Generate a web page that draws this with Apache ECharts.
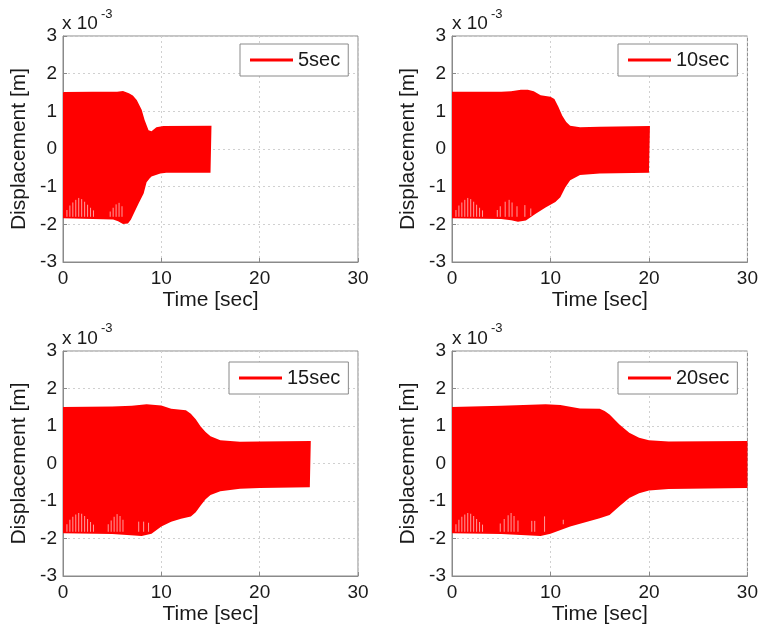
<!DOCTYPE html>
<html><head><meta charset="utf-8">
<script src="https://cdn.jsdelivr.net/npm/echarts@6/dist/echarts.min.js"></script>
<style>html,body{margin:0;padding:0;background:#fff}#c{width:761px;height:631px}</style>
</head><body><div id="c"></div>
<script>
// Displacement values are in units of 1e-3 m (axis multiplier "x 10^-3")
const panelNames = ['5sec', '10sec', '15sec', '20sec'];
const xTickValues = [0, 10, 20, 30];
const yTickValues = [-3, -2, -1, 0, 1, 2, 3];

// envelope of the oscillation: [time, displacement]
const upper5 = [[0,1.50],[0.1,1.51],[3,1.52],[5.5,1.52],[6.1,1.54],[6.7,1.48],[7.1,1.42],[7.5,1.30],[8.0,1.04],[8.3,0.77],[8.7,0.50],[9.0,0.47],[9.5,0.58],[10.2,0.61],[15.1,0.62]];
const lower5 = [[0,-1.84],[5.1,-1.87],[5.6,-1.92],[6.1,-1.99],[6.6,-1.98],[6.9,-1.88],[7.2,-1.71],[7.7,-1.44],[8.2,-1.18],[8.5,-0.88],[8.8,-0.78],[9.0,-0.73],[9.9,-0.65],[10.5,-0.63],[15.0,-0.63]];
const upper10 = [[0,1.52],[5,1.52],[6,1.53],[7,1.57],[7.7,1.57],[8.3,1.53],[9,1.43],[10,1.39],[10.4,1.33],[10.8,1.12],[11.2,0.88],[11.6,0.72],[12,0.62],[13,0.58],[15,0.59],[20.1,0.61]];
const lower10 = [[0,-1.84],[5,-1.86],[6,-1.89],[6.7,-1.93],[7.5,-1.90],[8.5,-1.72],[9.5,-1.55],[10.5,-1.41],[11,-1.28],[11.5,-1.02],[12,-0.83],[13,-0.69],[15,-0.65],[20,-0.63]];
const upper15 = [[0,1.51],[5,1.52],[7,1.54],[8.5,1.58],[10,1.55],[11,1.46],[12.5,1.42],[13,1.33],[13.5,1.18],[14,0.99],[14.5,0.84],[15,0.73],[16,0.62],[18,0.58],[20,0.59],[25.2,0.60]];
const lower15 = [[0,-1.86],[5,-1.88],[8,-1.93],[9,-1.87],[10,-1.68],[11,-1.55],[12,-1.47],[13,-1.41],[13.5,-1.30],[14,-1.12],[14.5,-0.95],[15,-0.84],[16,-0.74],[18,-0.67],[20,-0.65],[25.1,-0.63]];
const upper20 = [[0,1.51],[5,1.54],[9.5,1.58],[11,1.56],[13,1.47],[15,1.46],[15.5,1.40],[16,1.31],[17,1.04],[18,0.82],[19,0.69],[20,0.62],[22,0.59],[30,0.60]];
const lower20 = [[0,-1.86],[5,-1.88],[9,-1.93],[10,-1.87],[12,-1.68],[14,-1.53],[15,-1.46],[16,-1.37],[17,-1.14],[18,-0.92],[19,-0.79],[20,-0.72],[22,-0.68],[30,-0.65]];

// light aliasing streaks in the lower part: [time, top, bottom]
const streaks5 = [[0.4,-1.62,-1.80],[0.7,-1.50,-1.80],[1.0,-1.42,-1.80],[1.3,-1.35,-1.80],[1.6,-1.30,-1.80],[1.9,-1.33,-1.80],[2.2,-1.40,-1.80],[2.5,-1.48,-1.80],[2.8,-1.56,-1.80],[3.1,-1.63,-1.80],[4.8,-1.66,-1.80],[5.1,-1.56,-1.80],[5.4,-1.47,-1.80],[5.7,-1.43,-1.80],[6.0,-1.52,-1.80]];
const streaks10 = [[0.4,-1.62,-1.80],[0.7,-1.50,-1.80],[1.0,-1.42,-1.80],[1.3,-1.35,-1.80],[1.6,-1.30,-1.80],[1.9,-1.33,-1.80],[2.2,-1.40,-1.80],[2.5,-1.48,-1.80],[2.8,-1.56,-1.80],[3.1,-1.63,-1.80],[4.6,-1.62,-1.80],[4.9,-1.52,-1.80],[5.4,-1.40,-1.80],[5.8,-1.35,-1.80],[6.1,-1.42,-1.80],[6.6,-1.52,-1.80],[7.4,-1.49,-1.80],[8.0,-1.58,-1.78]];
const streaks15 = [[0.4,-1.62,-1.82],[0.7,-1.50,-1.82],[1.0,-1.42,-1.82],[1.3,-1.36,-1.82],[1.6,-1.32,-1.82],[1.9,-1.34,-1.82],[2.2,-1.40,-1.82],[2.5,-1.48,-1.82],[2.8,-1.56,-1.82],[3.1,-1.63,-1.82],[4.6,-1.62,-1.82],[4.9,-1.52,-1.82],[5.2,-1.42,-1.82],[5.5,-1.35,-1.82],[5.8,-1.40,-1.82],[6.1,-1.50,-1.82],[7.7,-1.55,-1.82],[8.2,-1.55,-1.82],[8.7,-1.58,-1.82]];
const streaks20 = [[0.4,-1.62,-1.82],[0.7,-1.50,-1.82],[1.0,-1.42,-1.82],[1.3,-1.36,-1.82],[1.6,-1.32,-1.82],[1.9,-1.34,-1.82],[2.2,-1.40,-1.82],[2.5,-1.48,-1.82],[2.8,-1.56,-1.82],[3.1,-1.63,-1.82],[4.9,-1.60,-1.82],[5.3,-1.48,-1.82],[5.7,-1.38,-1.82],[6.0,-1.32,-1.82],[6.3,-1.40,-1.82],[6.7,-1.52,-1.82],[8.1,-1.53,-1.82],[8.4,-1.53,-1.82],[9.4,-1.41,-1.82],[11.3,-1.50,-1.62]];

const uppers = [upper5, upper10, upper15, upper20];
const lowers = [lower5, lower10, lower15, lower20];
const streaks = [streaks5, streaks10, streaks15, streaks20];

// layout
const FONT = 'Liberation Sans, Arial, Helvetica, sans-serif';
const grids = [
  {left: 63, top: 36, width: 295, height: 226},
  {left: 452, top: 36, width: 296, height: 226},
  {left: 63, top: 351, width: 295, height: 225},
  {left: 452, top: 351, width: 296, height: 225}
];
const legendPos = [[240, 44], [618, 44], [229, 362], [618, 362]];
const multPos = [[62, 24, 101, 14], [452, 24, 491, 14], [62, 339, 101, 328], [452, 339, 491, 328]];
const RED = '#ff0000';
const FRAME = '#8a8a8a';

function envelopeRender(up, lo) {
  return function (params, api) {
    if (params.dataIndex !== 0) return null;
    const pts = up.map(p => api.coord(p)).concat(lo.slice().reverse().map(p => api.coord(p)));
    return {type: 'polygon', shape: {points: pts}, style: {fill: RED}};
  };
}
function streakRender(params, api) {
  const a = api.coord([api.value(0), api.value(1)]);
  const b = api.coord([api.value(0), api.value(2)]);
  return {type: 'line', shape: {x1: a[0], y1: a[1], x2: b[0], y2: b[1]},
    style: {stroke: '#ff9c9c', lineWidth: 1}};
}

const option = {
  animation: false,
  backgroundColor: '#ffffff',
  textStyle: {fontFamily: FONT},
  grid: grids.map(g => Object.assign({show: true, borderColor: FRAME, borderWidth: 1, backgroundColor: '#fff', containLabel: false}, g)),
  xAxis: grids.map((g, i) => ({
    type: 'value', gridIndex: i, min: xTickValues[0], max: xTickValues[xTickValues.length - 1], interval: 10,
    axisLine: {show: true, onZero: false, lineStyle: {color: FRAME}},
    axisTick: {show: true, inside: true, length: 4, lineStyle: {color: FRAME}},
    splitLine: {show: true, lineStyle: {color: '#d0d0d0', type: [2, 3], width: 1}},
    axisLabel: {color: '#1a1a1a', fontSize: 19, fontFamily: FONT, margin: 7},
    name: 'Time [sec]', nameLocation: 'middle', nameGap: 28,
    nameTextStyle: {color: '#1a1a1a', fontSize: 21, fontFamily: FONT}
  })),
  yAxis: grids.map((g, i) => ({
    type: 'value', gridIndex: i, min: yTickValues[0], max: yTickValues[yTickValues.length - 1], interval: 1,
    axisLine: {show: true, onZero: false, lineStyle: {color: FRAME}},
    axisTick: {show: true, inside: true, length: 4, lineStyle: {color: FRAME}},
    splitLine: {show: true, lineStyle: {color: '#d0d0d0', type: [2, 3], width: 1}},
    axisLabel: {color: '#1a1a1a', fontSize: 19, fontFamily: FONT, margin: 6},
    name: 'Displacement [m]', nameLocation: 'middle', nameGap: 33,
    nameTextStyle: {color: '#1a1a1a', fontSize: 21, fontFamily: FONT}
  })),
  legend: panelNames.map((n, i) => ({
    data: [n], left: legendPos[i][0], top: legendPos[i][1],
    orient: 'vertical', icon: 'rect', itemWidth: 43, itemHeight: 3,
    padding: [6, 8, 6, 10], borderColor: FRAME, borderWidth: 1, backgroundColor: '#fff',
    selectedMode: false,
    textStyle: {color: '#1a1a1a', fontSize: 20, fontFamily: FONT}
  })),
  graphic: multPos.flatMap(p => [
    {type: 'text', x: p[0], y: p[1], style: {text: 'x 10', font: '19px ' + FONT, fill: '#1a1a1a', verticalAlign: 'middle'}},
    {type: 'text', x: p[2], y: p[3], style: {text: '-3', font: '13px ' + FONT, fill: '#1a1a1a', verticalAlign: 'middle'}}
  ]),
  series: panelNames.flatMap((n, i) => [
    {
      type: 'custom', name: n, xAxisIndex: i, yAxisIndex: i,
      itemStyle: {color: RED},
      renderItem: envelopeRender(uppers[i], lowers[i]),
      data: uppers[i].concat(lowers[i]), encode: {x: 0, y: 1}, silent: true, z: 2
    },
    {
      type: 'custom', name: 'streaks' + i, xAxisIndex: i, yAxisIndex: i,
      renderItem: streakRender, data: streaks[i], encode: {x: 0, y: [1, 2]}, silent: true, z: 3
    }
  ])
};

const chart = echarts.init(document.getElementById('c'), null, {renderer: 'canvas'});
chart.setOption(option);
</script>
</body></html>
